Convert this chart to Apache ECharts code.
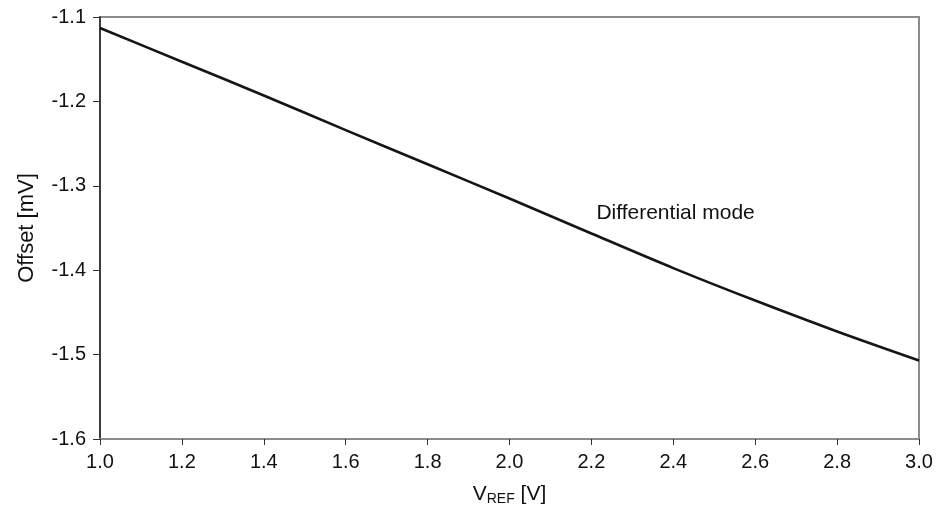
<!DOCTYPE html>
<html>
<head>
<meta charset="utf-8">
<script src="https://cdn.jsdelivr.net/npm/echarts@6/dist/echarts.min.js"></script>
<style>html,body{margin:0;padding:0;background:#fff}#c{width:941px;height:516px}</style>
</head>
<body>
<div id="c"></div>
<script>
const vref = [1.0, 1.2, 1.4, 1.6, 1.8, 2.0, 2.2, 2.4, 2.6, 2.8, 3.0];
const offset = [-1.113, -1.153, -1.193, -1.234, -1.2745, -1.315, -1.3565, -1.3975, -1.436, -1.4726, -1.507];
const xTicks = ['1.0','1.2','1.4','1.6','1.8','2.0','2.2','2.4','2.6','2.8','3.0'];
const yTicks = ['-1.6','-1.5','-1.4','-1.3','-1.2','-1.1'];
const seriesLabel = 'Differential mode';
const labelAt = [2.2, -1.332];

const FONT = '"Liberation Sans", Arial, sans-serif';
const chart = echarts.init(document.getElementById('c'), null, {renderer: 'canvas'});
chart.setOption({
  animation: false,
  backgroundColor: '#fff',
  grid: {left: 100, right: 22, top: 17, bottom: 77, show: true, borderColor: '#8c8c8c', borderWidth: 2},
  xAxis: {
    type: 'value', min: 1.0, max: 3.0, interval: 0.2,
    name: '{v|V}{s|REF}{v| [V]}', nameLocation: 'middle', nameGap: 44,
    nameTextStyle: {rich: {v: {fontSize: 21, fontFamily: FONT, color: '#111'}, s: {fontSize: 14, fontFamily: FONT, color: '#111', verticalAlign: 'bottom', padding: [9,0,0,0]}}},
    axisLine: {show: true, lineStyle: {color: '#8c8c8c', width: 2}},
    axisTick: {show: true, inside: false, length: 6, lineStyle: {color: '#333', width: 1}},
    axisLabel: {fontSize: 20, fontFamily: FONT, color: '#111', margin: 13, formatter: v => xTicks[Math.round((v - 1.0) / 0.2)]},
    splitLine: {show: false}
  },
  yAxis: {
    type: 'value', min: -1.6, max: -1.1, interval: 0.1,
    name: 'Offset [mV]', nameLocation: 'middle', nameGap: 62, nameRotate: 90,
    nameTextStyle: {fontSize: 22, fontFamily: FONT, color: '#111'},
    axisLine: {show: true, lineStyle: {color: '#222', width: 1.5}},
    axisTick: {show: true, inside: false, length: 7, lineStyle: {color: '#333', width: 1}},
    axisLabel: {fontSize: 20, fontFamily: FONT, color: '#111', margin: 14, formatter: v => yTicks[Math.round((v + 1.6) / 0.1)]},
    splitLine: {show: false}
  },
  series: [{
    type: 'line', data: vref.map((x, i) => [x, offset[i]]),
    showSymbol: false, smooth: 0.3,
    lineStyle: {color: '#151515', width: 2.6},
    markPoint: {
      symbol: 'circle', symbolSize: 0,
      data: [{coord: labelAt}],
      label: {show: true, position: 'right', distance: 5, formatter: seriesLabel, fontSize: 21, fontFamily: FONT, color: '#111'}
    }
  }]
});
</script>
</body>
</html>
